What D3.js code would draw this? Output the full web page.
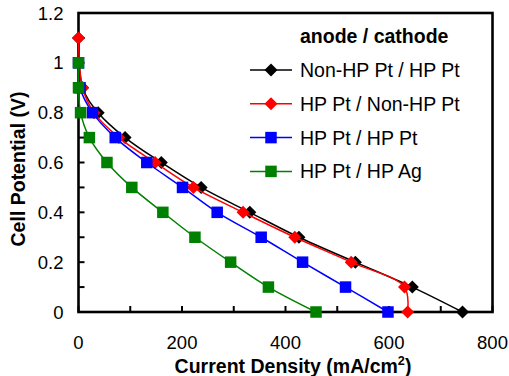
<!DOCTYPE html>
<html>
<head>
<meta charset="utf-8">
<script src="https://cdn.jsdelivr.net/npm/d3@7"></script>
<style>
  html, body { margin:0; padding:0; background:#fff; }
  svg { display:block; font-family:"Liberation Sans", Arial, sans-serif; }
</style>
</head>
<body>
<svg id="chart" width="509" height="376"></svg>
<script>
// --- Data ---
const seriesNames = ["Non-HP Pt / HP Pt", "HP Pt / Non-HP Pt", "HP Pt / HP Pt", "HP Pt / HP Ag"];
const seriesColors = ["#000000", "#ff0000", "#0000ff", "#008000"];
const seriesMarkers = ["diamond", "diamond", "square", "square"];

const blackI = [0, 8, 38, 90, 160, 237, 331, 426, 535, 645, 742];
const blackV = [1.1, 0.9, 0.8, 0.7, 0.6, 0.5, 0.4, 0.3, 0.2, 0.1, 0];
const redI   = [0, 8, 30, 78, 148, 222, 318, 418, 527, 630, 636];
const redV   = [1.1, 0.9, 0.8, 0.7, 0.6, 0.5, 0.4, 0.3, 0.2, 0.1, 0];
const blueI  = [0, 3, 27, 71, 132, 201, 268, 353, 433, 516, 598];
const blueV  = [1.0, 0.9, 0.8, 0.7, 0.6, 0.5, 0.4, 0.3, 0.2, 0.1, 0];
const greenI = [0, 0, 4, 21, 55, 103, 163, 225, 294, 367, 459];
const greenV = [1.0, 0.9, 0.8, 0.7, 0.6, 0.5, 0.4, 0.3, 0.2, 0.1, 0];

const xTicks = [0, 200, 400, 600, 800];
const xMinor = [100, 300, 500, 700];
const yTicks = [0, 0.2, 0.4, 0.6, 0.8, 1, 1.2];
const yMinor = [0.1, 0.3, 0.5, 0.7, 0.9, 1.1];

const series = [
  { I: blackI, V: blackV },
  { I: redI,   V: redV },
  { I: blueI,  V: blueV },
  { I: greenI, V: greenV }
].map((s, i) => ({
  name: seriesNames[i], color: seriesColors[i], marker: seriesMarkers[i],
  pts: s.I.map((x, j) => [x, s.V[j]])
}));

// --- Layout ---
const svg = d3.select("#chart");
const M = { l: 78.5, r: 509 - 492.5, t: 13, b: 376 - 312 };
const W = 509, H = 376;
const x = d3.scaleLinear().domain([0, 800]).range([M.l, W - M.r]);
const y = d3.scaleLinear().domain([0, 1.2]).range([H - M.b, M.t]);
const FS = 18.5;   // tick labels
const FL = 19.5;   // legend + titles

// ticks (inward)
const gT = svg.append("g").attr("stroke", "#000").attr("stroke-width", 2);
xTicks.concat(xMinor).forEach(t => {
  gT.append("line").attr("x1", x(t)).attr("x2", x(t)).attr("y1", y(0)).attr("y2", y(0) - 6);
});
yTicks.concat(yMinor).forEach(t => {
  gT.append("line").attr("x1", x(0)).attr("x2", x(0) + 6).attr("y1", y(t)).attr("y2", y(t));
});

// frame
svg.append("rect")
  .attr("x", x(0)).attr("y", y(1.2))
  .attr("width", x(800) - x(0)).attr("height", y(0) - y(1.2))
  .attr("fill", "none").attr("stroke", "#000").attr("stroke-width", 2.6);

// tick labels
svg.append("g").selectAll("text").data(xTicks).join("text")
  .attr("x", d => x(d)).attr("y", y(0) + 37)
  .attr("text-anchor", "middle").attr("font-size", FS)
  .text(d => d);
svg.append("g").selectAll("text").data(yTicks).join("text")
  .attr("x", x(0) - 15).attr("y", d => y(d) + 6.5)
  .attr("text-anchor", "end").attr("font-size", FS)
  .text(d => d);

// axis titles
const xt = svg.append("text")
  .attr("x", 293).attr("y", 373)
  .attr("text-anchor", "middle").attr("font-size", FL).attr("font-weight", "bold");
xt.append("tspan").text("Current Density (mA/cm");
xt.append("tspan").attr("font-size", FL * 0.65).attr("dy", -8).text("2");
xt.append("tspan").attr("dy", 8).text(")");

svg.append("text")
  .attr("transform", `translate(25,${169}) rotate(-90)`)
  .attr("text-anchor", "middle").attr("font-size", FL).attr("font-weight", "bold")
  .text("Cell Potential (V)");

// --- Series ---
const line = d3.line().x(d => x(d[0])).y(d => y(d[1])).curve(d3.curveCatmullRom.alpha(0.5));

function drawMarker(g, cx, cy, type, color) {
  if (type === "diamond") {
    const r = 6.5;
    g.append("path")
      .attr("d", `M${cx},${cy - r}L${cx + r},${cy}L${cx},${cy + r}L${cx - r},${cy}Z`)
      .attr("fill", color);
  } else {
    const s = 11.5;
    g.append("rect").attr("x", cx - s / 2).attr("y", cy - s / 2)
      .attr("width", s).attr("height", s).attr("fill", color);
  }
}

series.forEach(s => {
  const g = svg.append("g");
  g.append("path").attr("d", line(s.pts))
    .attr("fill", "none").attr("stroke", s.color).attr("stroke-width", 1.5);
  s.pts.forEach(p => drawMarker(g, x(p[0]), y(p[1]), s.marker, s.color));
});

// --- Legend ---
const lg = svg.append("g");
lg.append("text").attr("x", 300).attr("y", 43)
  .attr("font-size", FL).attr("font-weight", "bold").text("anode / cathode");
series.forEach((s, i) => {
  const cy = 70 + i * 33.8;
  lg.append("line").attr("x1", 250).attr("x2", 292).attr("y1", cy).attr("y2", cy)
    .attr("stroke", s.color).attr("stroke-width", 1.5);
  drawMarker(lg, 271, cy, s.marker, s.color);
  lg.append("text").attr("x", 300).attr("y", cy + 7).attr("font-size", FL).text(s.name);
});
</script>
</body>
</html>
